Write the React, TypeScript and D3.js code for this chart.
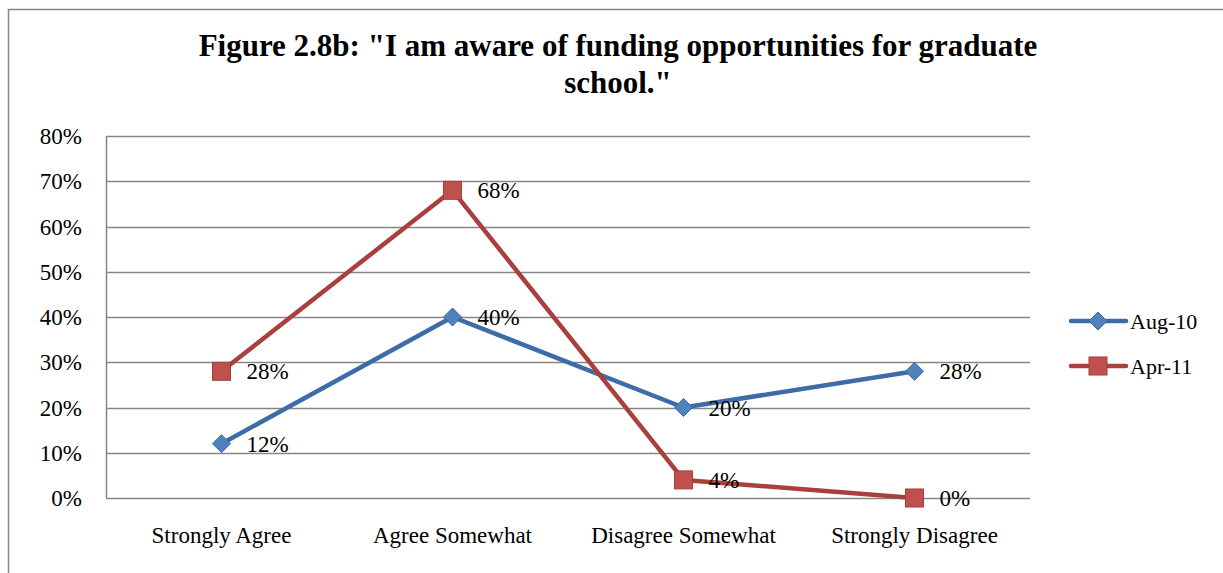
import React, { useRef, useEffect } from "react";
import * as d3 from "d3";

const categories = ["Strongly Agree", "Agree Somewhat", "Disagree Somewhat", "Strongly Disagree"];
const aug10 = [0.12, 0.4, 0.2, 0.28];
const apr11 = [0.28, 0.68, 0.04, 0.0];
const yTicks = [0, 0.1, 0.2, 0.3, 0.4, 0.5, 0.6, 0.7, 0.8];
const titleLines = ['Figure 2.8b: "I am aware of funding opportunities for graduate', 'school."'];

const series = [
    { name: "Aug-10", values: aug10, line: "#3E6CA8", fill: "#4F81BD", stroke: "#3A6AA5", marker: "diamond" },
    { name: "Apr-11", values: apr11, line: "#A9403D", fill: "#C0504D", stroke: "#A33F3C", marker: "square" },
];

const FONT = "'Liberation Serif', 'DejaVu Serif', serif";

const App: React.FC = () => {
    const ref = useRef<SVGSVGElement | null>(null);

    useEffect(() => {
        const svg = d3.select(ref.current);
        svg.selectAll("*").remove();

        const width = 1223;
        const height = 573;
        const plot = { left: 106, right: 1030, top: 136, bottom: 498 };

        svg.attr("width", width).attr("height", height);

        // outer chart border (runs off right/bottom)
        svg.append("rect")
            .attr("x", 8.5)
            .attr("y", 9.5)
            .attr("width", 1300)
            .attr("height", 700)
            .attr("fill", "white")
            .attr("stroke", "#868686")
            .attr("stroke-width", 1.5);

        const x = d3.scaleBand<string>().domain(categories).range([plot.left, plot.right]);
        const y = d3.scaleLinear().domain([0, 0.8]).range([plot.bottom, plot.top]);
        const cx = (c: string) => (x(c) as number) + x.bandwidth() / 2;

        // title
        svg.append("g")
            .selectAll("text")
            .data(titleLines)
            .enter()
            .append("text")
            .attr("x", 618)
            .attr("y", (d, i) => 56 + i * 37)
            .attr("text-anchor", "middle")
            .style("font-family", FONT)
            .style("font-size", "31px")
            .style("font-weight", "bold")
            .text((d) => d);

        // gridlines
        svg.append("g")
            .selectAll("line")
            .data(yTicks)
            .enter()
            .append("line")
            .attr("x1", plot.left)
            .attr("x2", plot.right)
            .attr("y1", (d) => Math.round(y(d)) + 0.5)
            .attr("y2", (d) => Math.round(y(d)) + 0.5)
            .attr("stroke", "#868686")
            .attr("stroke-width", 1.5);

        // y axis line
        svg.append("line")
            .attr("x1", plot.left + 0.5)
            .attr("x2", plot.left + 0.5)
            .attr("y1", plot.top)
            .attr("y2", plot.bottom)
            .attr("stroke", "#868686")
            .attr("stroke-width", 1.5);

        // y tick labels
        svg.append("g")
            .selectAll("text")
            .data(yTicks)
            .enter()
            .append("text")
            .attr("x", 82)
            .attr("y", (d) => y(d))
            .attr("dy", "0.35em")
            .attr("text-anchor", "end")
            .style("font-family", FONT)
            .style("font-size", "23px")
            .text((d) => d3.format(".0%")(d));

        // category labels
        svg.append("g")
            .selectAll("text")
            .data(categories)
            .enter()
            .append("text")
            .attr("x", (d) => cx(d))
            .attr("y", 543)
            .attr("text-anchor", "middle")
            .style("font-family", FONT)
            .style("font-size", "23px")
            .text((d) => d);

        const line = d3
            .line<number>()
            .x((d, i) => cx(categories[i]))
            .y((d) => y(d));

        const drawMarker = (g: any, s: typeof series[0], px: number, py: number) => {
            if (s.marker === "diamond") {
                const r = 9;
                g.append("path")
                    .attr("d", `M${px},${py - r}L${px + r},${py}L${px},${py + r}L${px - r},${py}Z`)
                    .attr("fill", s.fill)
                    .attr("stroke", s.stroke)
                    .attr("stroke-width", 1);
            } else {
                const r = 9;
                g.append("rect")
                    .attr("x", px - r)
                    .attr("y", py - r)
                    .attr("width", r * 2)
                    .attr("height", r * 2)
                    .attr("fill", s.fill)
                    .attr("stroke", s.stroke)
                    .attr("stroke-width", 1);
            }
        };

        // series lines (Aug-10 drawn first, Apr-11 on top)
        series.forEach((s) => {
            svg.append("path")
                .datum(s.values)
                .attr("fill", "none")
                .attr("stroke", s.line)
                .attr("stroke-width", 4.5)
                .attr("stroke-linejoin", "round")
                .attr("d", line);
        });

        series.forEach((s) => {
            const g = svg.append("g");
            s.values.forEach((v, i) => {
                drawMarker(g, s, cx(categories[i]), y(v));
            });
            g.selectAll("text.label")
                .data(s.values)
                .enter()
                .append("text")
                .attr("class", "label")
                .attr("x", (d, i) => cx(categories[i]) + 25)
                .attr("y", (d) => y(d))
                .attr("dy", "0.35em")
                .style("font-family", FONT)
                .style("font-size", "23px")
                .text((d) => d3.format(".0%")(d));
        });

        // legend
        const legend = svg.append("g");
        series.forEach((s, i) => {
            const ly = 321 + i * 45;
            legend.append("line")
                .attr("x1", 1071)
                .attr("x2", 1126)
                .attr("y1", ly)
                .attr("y2", ly)
                .attr("stroke", s.line)
                .attr("stroke-width", 4.5)
                .attr("stroke-linecap", "round");
            drawMarker(legend, s, 1098, ly);
            legend.append("text")
                .attr("x", 1130)
                .attr("y", ly)
                .attr("dy", "0.35em")
                .style("font-family", FONT)
                .style("font-size", "22px")
                .text(s.name);
        });
    }, []);

    return (
        <div style={{ position: "absolute", left: 0, top: 0 }}>
            <svg ref={ref}></svg>
        </div>
    );
};

export default App;
